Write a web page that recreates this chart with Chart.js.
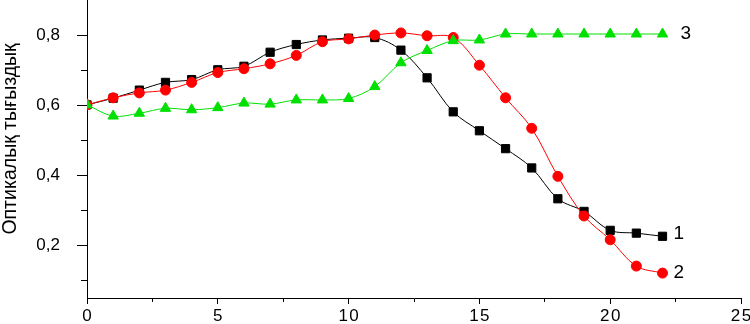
<!DOCTYPE html>
<html>
<head>
<meta charset="utf-8">
<script src="https://cdn.jsdelivr.net/npm/chart.js@4/dist/chart.umd.min.js"></script>
<style>
  html, body { margin: 0; padding: 0; background: #fff; }
  canvas { display: block; }
</style>
</head>
<body>
<canvas id="od-chart" width="750" height="324"></canvas>
<script>
// データ
const xValues = [0, 1, 2, 3, 4, 5, 6, 7, 8, 9, 10, 11, 12, 13, 14, 15, 16, 17, 18, 19, 20, 21, 22];
const series1 = [0.601, 0.620, 0.643, 0.665, 0.673, 0.701, 0.711, 0.751, 0.773, 0.786, 0.791, 0.793,
                 0.757, 0.678, 0.581, 0.527, 0.476, 0.421, 0.333, 0.297, 0.243, 0.235, 0.226];
const series2 = [0.601, 0.621, 0.635, 0.643, 0.665, 0.693, 0.704, 0.718, 0.742, 0.781, 0.789, 0.800,
                 0.806, 0.798, 0.793, 0.714, 0.621, 0.534, 0.397, 0.284, 0.216, 0.141, 0.121];
const series3 = [0.601, 0.569, 0.577, 0.591, 0.587, 0.593, 0.606, 0.603, 0.615, 0.615, 0.619, 0.653,
                 0.721, 0.756, 0.784, 0.786, 0.803, 0.803, 0.803, 0.803, 0.803, 0.803, 0.803];
const seriesNames = ['1', '2', '3'];

// 目盛りラベル
const xTickValues = [0, 5, 10, 15, 20, 25];
const xTickLabels = ['0', '5', '1\u200A0', '1\u200A5', '2\u200A0', '2\u200A5'];
const yTickValues = [0.2, 0.4, 0.6, 0.8];
const yTickLabels = ['0,2', '0,4', '0,6', '0,8'];
const yTitle = 'Оптикалық тығыздық';

const FONT = "'Liberation Sans', Arial, sans-serif";

function findLabel(values, labels, v) {
    const i = values.findIndex(t => Math.abs(t - v) < 1e-6);
    return i >= 0 ? labels[i] : '';
}
function isMajor(values, v) {
    return values.some(t => Math.abs(t - v) < 1e-6);
}

// 系列番号と縦軸タイトルを描くプラグイン
const labelPlugin = {
    id: 'curveLabels',
    afterDatasetsDraw(chart) {
        const ctx = chart.ctx;
        const offsets = { '1': [11, -3], '2': [11, 0], '3': [18, 0] };
        ctx.save();
        ctx.fillStyle = '#000';
        ctx.font = '19px ' + FONT;
        ctx.textBaseline = 'middle';
        ctx.textAlign = 'left';
        chart.data.datasets.forEach((ds, i) => {
            const pts = chart.getDatasetMeta(i).data;
            const last = pts[pts.length - 1];
            const off = offsets[ds.label] || [12, 0];
            ctx.fillText(ds.label, last.x + off[0], last.y + off[1]);
        });
        // 縦軸タイトル
        ctx.translate(15.5, 139);
        ctx.rotate(-Math.PI / 2);
        ctx.font = '19.5px ' + FONT;
        ctx.textAlign = 'center';
        ctx.textBaseline = 'alphabetic';
        ctx.fillText(yTitle, 0, 0);
        ctx.restore();
    }
};

const ctx = document.getElementById('od-chart').getContext('2d');
new Chart(ctx, {
    type: 'line',
    data: {
        datasets: [
            {
                label: seriesNames[0],
                data: xValues.map((x, i) => ({ x, y: series1[i] })),
                borderColor: '#000000',
                backgroundColor: '#000000',
                pointStyle: 'rect',
                pointRadius: 5.8,
                order: 2
            },
            {
                label: seriesNames[1],
                data: xValues.map((x, i) => ({ x, y: series2[i] })),
                borderColor: '#ff0000',
                backgroundColor: '#ff0000',
                pointStyle: 'circle',
                pointRadius: 5,
                order: 1
            },
            {
                label: seriesNames[2],
                data: xValues.map((x, i) => ({ x, y: series3[i] })),
                borderColor: '#00e000',
                backgroundColor: '#00e000',
                pointStyle: 'triangle',
                pointRadius: 6,
                order: 0
            }
        ]
    },
    options: {
        responsive: false,
        animation: false,
        events: [],
        layout: { autoPadding: false, padding: { top: 0, right: 9, bottom: 0, left: 0 } },
        elements: {
            line: { borderWidth: 1, tension: 0.35, fill: false },
            point: { borderWidth: 1 }
        },
        plugins: {
            legend: { display: false },
            tooltip: { enabled: false }
        },
        scales: {
            x: {
                type: 'linear',
                min: 0,
                max: 25,
                border: { display: true, color: '#000', width: 1 },
                grid: {
                    drawOnChartArea: false,
                    drawTicks: true,
                    tickLength: 6,
                    tickColor: '#000',
                    tickWidth: 1,
                    // 補助目盛りは短く
                    tickBorderDash: c => isMajor(xTickValues, c.tick.value) ? [] : [3, 100]
                },
                ticks: {
                    stepSize: 2.5,
                    autoSkip: false,
                    maxRotation: 0,
                    padding: 2,
                    color: '#000',
                    font: { family: FONT, size: 17 },
                    callback: v => findLabel(xTickValues, xTickLabels, v)
                },
                afterFit: scale => {
                    scale.height = 26;
                    scale.paddingLeft = 0;
                    scale.paddingRight = 0;
                }
            },
            y: {
                type: 'linear',
                min: 0.05,
                max: 0.9,
                border: { display: true, color: '#000', width: 1 },
                grid: {
                    drawOnChartArea: false,
                    drawTicks: true,
                    tickLength: 10,
                    tickWidth: 1,
                    tickColor: '#000',
                    tickBorderDash: c => isMajor(yTickValues, c.tick.value) ? [] : [0, 4, 6, 100]
                },
                ticks: {
                    stepSize: 0.1,
                    includeBounds: false,
                    autoSkip: false,
                    padding: 17,
                    color: '#000',
                    font: { family: FONT, size: 17 },
                    callback: v => findLabel(yTickValues, yTickLabels, v)
                },
                // 上端(0.9)の目盛りは描かない
                afterBuildTicks: scale => {
                    scale.ticks = scale.ticks.filter(t => t.value < 0.85);
                },
                // ラベル余白で上下が縮まないように
                afterFit: scale => {
                    scale.width = 87;
                    scale.paddingTop = 0;
                    scale.paddingBottom = 0;
                }
            }
        }
    },
    plugins: [labelPlugin]
});
</script>
</body>
</html>
